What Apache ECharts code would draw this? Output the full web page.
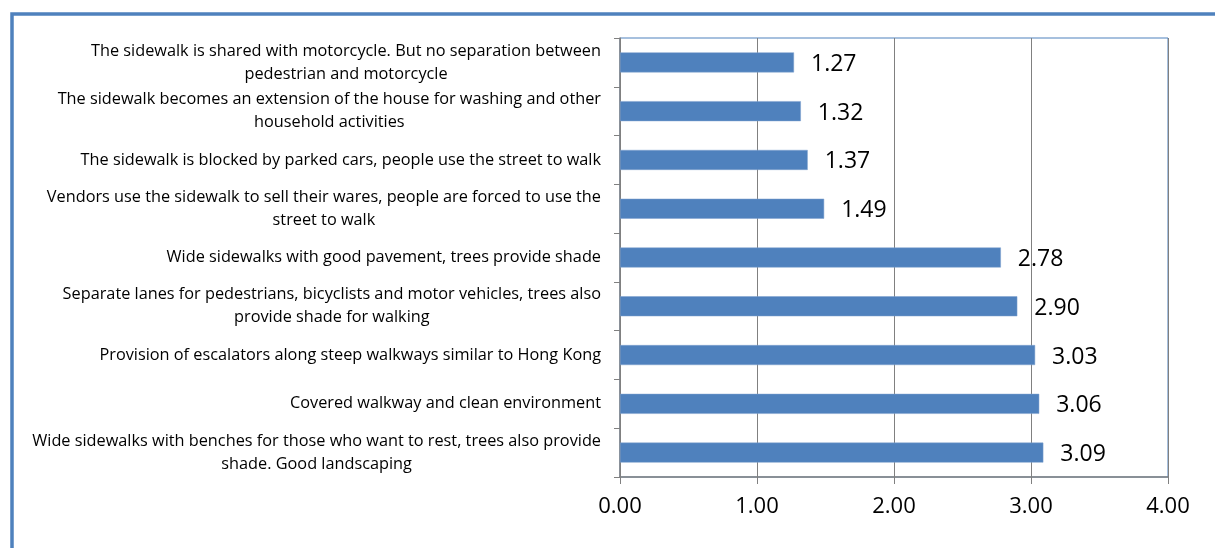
<!DOCTYPE html>
<html>
<head>
<meta charset="utf-8">
<script src="https://cdn.jsdelivr.net/npm/echarts@6/dist/echarts.min.js"></script>
<style>
  html, body { margin: 0; padding: 0; background: #fff; }
  #chart { width: 1215px; height: 548px; }
</style>
</head>
<body>
<div id="chart"></div>
<script>
// Sidewalk scenarios, listed top to bottom
const categories = [
  'The sidewalk is shared with motorcycle. But no separation between\npedestrian and motorcycle',
  'The sidewalk becomes an extension of the house for washing and other\nhousehold activities',
  'The sidewalk is blocked by parked cars, people use the street to walk',
  'Vendors use the sidewalk to sell their wares, people are forced to use the\nstreet to walk',
  'Wide sidewalks with good pavement, trees provide shade',
  'Separate lanes for pedestrians, bicyclists and motor vehicles, trees also\nprovide shade for walking',
  'Provision of escalators along steep walkways similar to Hong Kong',
  'Covered walkway and clean environment',
  'Wide sidewalks with benches for those who want to rest, trees also provide\nshade. Good landscaping'
];
const scores = [1.27, 1.32, 1.37, 1.49, 2.78, 2.90, 3.03, 3.06, 3.09];
const xTicks = [0, 1, 2, 3, 4];

const blue = '#4F81BD';
const grey = '#808080';

const chart = echarts.init(document.getElementById('chart'));
chart.setOption({
  animation: false,
  backgroundColor: '#fff',
  grid: {
    left: 620, right: 47, top: 38, bottom: 71,
    show: true, borderColor: blue, borderWidth: 1, backgroundColor: 'transparent'
  },
  graphic: [{
    type: 'rect',
    shape: { x: 12, y: 14, width: 1400, height: 700 },
    style: { fill: 'none', stroke: blue, lineWidth: 3.5 },
    silent: true
  }],
  xAxis: {
    type: 'value',
    min: xTicks[0], max: xTicks[xTicks.length - 1], interval: 1,
    axisLine: { show: true, lineStyle: { color: grey, width: 1.5 } },
    axisTick: { show: true, length: 7, lineStyle: { color: grey } },
    splitLine: { show: true, lineStyle: { color: grey, width: 1 } },
    axisLabel: {
      margin: 19,
      color: '#000',
      fontFamily: 'Open Sans',
      fontSize: 22,
      formatter: v => v.toFixed(2)
    }
  },
  yAxis: {
    type: 'category',
    inverse: true,
    data: categories,
    axisLine: { show: true, lineStyle: { color: grey, width: 1.5 } },
    axisTick: { show: true, length: 6, lineStyle: { color: grey } },
    axisLabel: {
      margin: 19,
      color: '#000',
      fontFamily: 'Open Sans',
      fontSize: 16.3,
      lineHeight: 23,
      formatter: v => v.split('\n').map(l => '{c|' + l + '}').join('\n'),
      rich: { c: { align: 'center', fontFamily: 'Open Sans', fontSize: 16.3, lineHeight: 23, color: '#000' } }
    }
  },
  series: [{
    type: 'bar',
    data: scores,
    barWidth: 20,
    itemStyle: { color: blue, borderColor: '#7EA1CF', borderWidth: 0.5 },
    label: {
      show: true,
      position: 'right',
      distance: 17,
      offset: [0, 2],
      color: '#000',
      fontFamily: 'Open Sans',
      fontSize: 23,
      formatter: p => p.value.toFixed(2)
    }
  }]
});
</script>
</body>
</html>
